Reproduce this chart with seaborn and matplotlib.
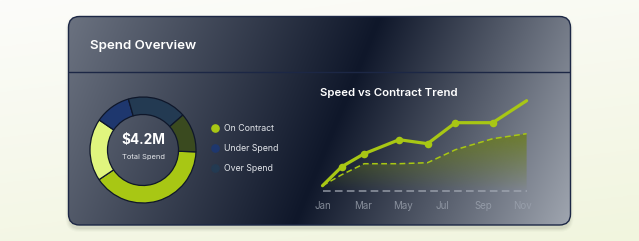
import numpy as np
import pandas as pd
import matplotlib
matplotlib.use("Agg")
import matplotlib.pyplot as plt
import seaborn as sns
from matplotlib.patches import FancyBboxPatch
from matplotlib.lines import Line2D

# ---------------- data ----------------
segment_names = ["On Contract", "Committed", "Under Spend", "Over Spend", "Reserved"]
segment_values = [40, 19, 11, 18, 12]
segment_colors = ["#a8c714", "#e0f57e", "#1e376e", "#233a52", "#3a4a1f"]

legend_labels = ["On Contract", "Under Spend", "Over Spend"]
legend_colors = ["#a8c714", "#1e376e", "#233a52"]

total_label = "$4.2M"
total_caption = "Total Spend"

trend_x = [0.0, 0.96, 2.08, 3.82, 5.24, 6.63, 8.49, 10.18]
speed = [5, 24, 37, 51, 47, 68, 68, 90]
contract = [5, 16, 27, 27, 28, 41, 52, 57]
month_ticks = [0, 2, 4, 6, 8, 10]
month_labels = ["Jan", "Mar", "May", "Jul", "Sep", "Nov"]

# ---------------- setup ----------------
W, H, DPI = 639, 241, 100
sns.set_theme(style="white")
plt.rcParams["font.family"] = ["Inter", "DejaVu Sans"]

fig = plt.figure(figsize=(W / DPI, H / DPI), dpi=DPI)


def frect(x0, y0, x1, y1):
    return [x0 / W, 1 - y1 / H, (x1 - x0) / W, (y1 - y0) / H]


# background axes in pixel units
bg = fig.add_axes([0, 0, 1, 1])
bg.set_xlim(0, W)
bg.set_ylim(H, 0)
bg.axis("off")

# page gradient
yy = np.linspace(0, 1, 120)[:, None]
xx = np.linspace(0, 1, 200)[None, :]
tp = np.clip(0.75 * yy + 0.25 * xx, 0, 1)
top = np.array([252, 252, 250]) / 255
bot = np.array([241, 245, 222]) / 255
page = top[None, None, :] * (1 - tp[..., None]) + bot[None, None, :] * tp[..., None]
bg.imshow(page, extent=(0, W, H, 0), aspect="auto", zorder=0)

# card geometry
cx0, cy0, cx1, cy1 = 68.5, 16.5, 570.5, 225.0
rs = 11

# shadow
for i, a in enumerate([0.05, 0.04, 0.03, 0.02]):
    sh = FancyBboxPatch((cx0 - i, cy0 + 2 - i), cx1 - cx0 + 2 * i, cy1 - cy0 + 2 + 2 * i,
                        boxstyle=f"round,pad=0,rounding_size={rs + i}",
                        fc="#1f2a10", ec="none", alpha=a, zorder=1)
    bg.add_patch(sh)

# card gradient
gx = np.linspace(cx0, cx1, 502)
gy = np.linspace(cy0, cy1, 209)
GX, GY = np.meshgrid(gx, gy)
t = ((GX - cx0) * 209 + (GY - cy0) * 86) / ((cx1 - cx0) * 209 + (cy1 - cy0) * 86)
stops_t = [0.0, 0.53, 1.0]
stops_c = np.array([[107, 114, 128], [15, 23, 42], [160, 166, 176]]) / 255
card_img = np.dstack([np.interp(t, stops_t, stops_c[:, k]) for k in range(3)])
card = FancyBboxPatch((cx0, cy0), cx1 - cx0, cy1 - cy0,
                      boxstyle=f"round,pad=0,rounding_size={rs}",
                      fc="none", ec="#1c2745", lw=1.0, zorder=4)
bg.add_patch(card)
im = bg.imshow(card_img, extent=(cx0, cx1, cy1, cy0), aspect="auto", zorder=2)
im.set_clip_path(card)

# header divider
div = bg.plot([cx0, cx1], [71.5, 71.5], color="#1c2745", lw=1.0, zorder=3)[0]
div.set_clip_path(card)
bg.set_xlim(0, W)
bg.set_ylim(H, 0)

fig.text(90.5 / W, 1 - 46 / H, "Spend Overview", color="white", fontsize=9.6,
         fontweight="semibold", ha="left", va="center")
fig.text(320 / W, 1 - 92.5 / H, "Speed vs Contract Trend", color="white", fontsize=8.2,
         fontweight="semibold", ha="left", va="center")

# ---------------- donut ----------------
dcx, dcy, R = 143, 150, 53
ax_d = fig.add_axes(frect(dcx - R, dcy - R, dcx + R, dcy + R))
ax_d.pie(segment_values, colors=segment_colors, startangle=-2, counterclock=False,
         radius=1.0, wedgeprops=dict(width=0.33, edgecolor="#0f172a", linewidth=0.9))
ax_d.set_xlim(-1, 1)
ax_d.set_ylim(-1, 1)
ax_d.set_aspect("equal")
ax_d.axis("off")
ax_d.text(0, 9.7 / R, total_label, color="white", fontsize=9.8, fontweight="bold",
          ha="center", va="center")
ax_d.text(0, -7.3 / R, total_caption, color="#e5e7eb", fontsize=5.4,
          ha="center", va="center")

# legend
handles = [Line2D([], [], marker="o", linestyle="none", markersize=5.2,
                  markerfacecolor=c, markeredgecolor=c) for c in legend_colors]
fig.legend(handles, legend_labels, loc="upper left",
           bbox_to_anchor=(211 / W, 1 - 124 / H), frameon=False,
           borderaxespad=0, borderpad=0, handlelength=0.9, handletextpad=0.6,
           labelspacing=1.24, fontsize=6.3, labelcolor="#e2e5ea")

# ---------------- trend ----------------
x0px, spx = 322.5, 20.05
base_px = 190.7
L, Rr, T, B = 305, 545, 95, 198
ax = fig.add_axes(frect(L, T, Rr, B))
ax.set_facecolor("none")

lime = "#a8c714"
df = pd.DataFrame({"x": trend_x, "speed": speed, "contract": contract})

# gradient area under contract line
poly = ax.fill_between(df["x"], df["contract"], 0, color="none", lw=0)
ny = 200
alpha = np.linspace(0.78, 0.0, ny)[:, None]
olive = np.array([108, 126, 22]) / 255
grad = np.zeros((ny, 2, 4))
grad[..., :3] = olive
grad[..., 3] = alpha
gim = ax.imshow(grad, extent=(df["x"].min(), df["x"].max(), 0, df["contract"].max()),
                aspect="auto", origin="upper", zorder=1, interpolation="bilinear")
gim.set_clip_path(poly.get_paths()[0], ax.transData)

# baseline
ax.hlines(0, df["x"].min(), df["x"].max(), colors="#a3a9b4", alpha=0.85, lw=1.1,
          linestyles=(0, (5.0, 2.8)), zorder=2)

sns.lineplot(data=df, x="x", y="contract", ax=ax, color=lime, lw=1.1, zorder=3)
ax.lines[-1].set_linestyle((0, (3.8, 2.2)))
sns.lineplot(data=df, x="x", y="speed", ax=ax, color=lime, lw=2.3, zorder=4)
mid = df.iloc[1:-1]
sns.scatterplot(data=mid, x="x", y="speed", ax=ax, color=lime, s=30, edgecolor=lime,
                linewidth=0, zorder=5)

ax.set_xlim((L - x0px) / spx, (Rr - x0px) / spx)
ax.set_ylim(base_px - B, base_px - T)
ax.set_xticks(month_ticks)
ax.set_xticklabels(month_labels)
ax.set_yticks([])
ax.tick_params(axis="x", length=0, pad=2.5, labelsize=7, labelcolor="#9ca3af")
for lab in ax.get_xticklabels():
    lab.set_alpha(0.8)
ax.set_xlabel("")
ax.set_ylabel("")
for s in ax.spines.values():
    s.set_visible(False)

fig.savefig("out.png", dpi=DPI)
